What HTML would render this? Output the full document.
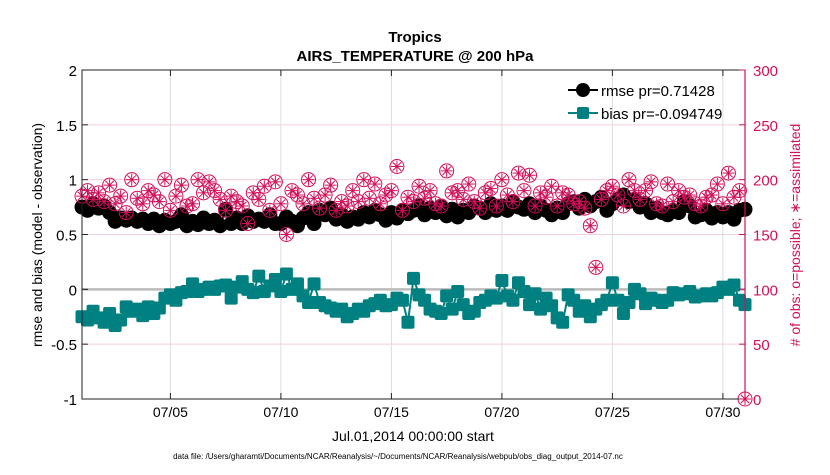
<!DOCTYPE html>
<html><head><meta charset="utf-8"><style>
body{margin:0;background:#fff;font-family:"Liberation Sans",sans-serif}
</style></head><body>
<svg id="chart" width="830" height="470" xmlns="http://www.w3.org/2000/svg" font-family="Liberation Sans, sans-serif">
<rect width="830" height="470" fill="#fff"/>
<text x="415" y="42" text-anchor="middle" font-size="15" font-weight="bold">Tropics</text>
<text x="415" y="61" text-anchor="middle" font-size="15" font-weight="bold">AIRS_TEMPERATURE @ 200 hPa</text>
<g id="grid"></g>
<g id="marks"></g>
<rect x="82" y="70" width="663" height="329" fill="none" stroke="#222" stroke-width="1"/>
<line x1="745" y1="70" x2="745" y2="399" stroke="#d0105a" stroke-width="1.2"/>
<g id="axes"></g>
<text transform="translate(42,235) rotate(-90)" text-anchor="middle" font-size="14">rmse and bias (model - observation)</text>
<text transform="translate(800,235) rotate(-90)" text-anchor="middle" font-size="14" fill="#d0105a"># of obs: o=possible; ∗=assimilated</text>
<text x="413" y="441" text-anchor="middle" font-size="14">Jul.01,2014 00:00:00 start</text>
<text x="398" y="459" text-anchor="middle" font-size="8">data file: /Users/gharamti/Documents/NCAR/Reanalysis/~/Documents/NCAR/Reanalysis/webpub/obs_diag_output_2014-07.nc</text>
<g>
<line x1="568" y1="90" x2="598" y2="90" stroke="#000" stroke-width="2"/>
<circle cx="583" cy="90" r="7" fill="#000"/>
<text x="601" y="96" font-size="15">rmse pr=0.71428</text>
<line x1="568" y1="113" x2="598" y2="113" stroke="#008080" stroke-width="2"/>
<rect x="577" y="107" width="12" height="12" rx="2" fill="#008080"/>
<text x="601" y="119" font-size="15">bias pr=-0.094749</text>
</g>
</svg>
<script>
const rmse=[.75,.72,.78,.74,.76,.70,.62,.65,.63,.65,.62,.64,.60,.64,.58,.63,.60,.62,.68,.58,.62,.59,.65,.60,.63,.58,.73,.60,.65,.60,.67,.62,.64,.62,.68,.60,.60,.66,.62,.58,.65,.70,.60,.72,.68,.74,.64,.68,.62,.66,.64,.70,.66,.72,.68,.63,.70,.65,.72,.69,.72,.76,.68,.74,.70,.75,.67,.73,.66,.72,.70,.76,.74,.70,.78,.72,.76,.72,.80,.75,.73,.78,.70,.76,.72,.68,.74,.70,.78,.80,.74,.82,.76,.80,.84,.72,.78,.82,.86,.80,.82,.75,.78,.70,.74,.70,.68,.72,.70,.80,.76,.66,.68,.72,.65,.70,.66,.70,.64,.72,.73];
const bias=[-.25,-.28,-.2,-.26,-.3,-.22,-.33,-.28,-.16,-.2,-.18,-.24,-.16,-.22,-.17,-.08,-.05,-.1,-.03,-.02,.05,-.02,0,.02,0,.03,.04,-.08,.02,.07,0,-.03,.12,-.02,.03,.09,-.02,.14,0,.05,-.06,-.12,.05,-.12,-.15,-.17,-.2,-.18,-.25,-.22,-.18,-.2,-.15,-.13,-.1,-.15,-.14,-.08,-.1,-.3,.1,-.05,-.1,-.18,-.2,-.22,-.06,-.18,-.02,-.14,-.22,-.2,-.12,-.1,-.06,-.08,.08,-.06,-.1,.06,-.02,-.14,-.04,-.18,-.08,-.15,-.26,-.3,-.05,-.1,-.2,-.15,-.25,-.18,-.14,-.1,.06,-.1,-.22,-.12,0,-.04,-.13,-.08,-.1,-.12,-.1,-.03,-.05,-.04,-.02,-.07,-.06,-.04,-.06,-.03,.02,0,.04,-.1,-.14];
const obs=[185,190,182,188,180,195,178,185,170,200,183,178,190,186,180,200,172,185,195,176,178,200,188,198,190,182,172,185,180,176,160,188,182,194,172,198,178,150,190,186,178,200,183,174,186,195,172,180,176,190,180,200,183,196,178,186,190,212,172,184,180,194,183,190,178,176,208,188,190,182,196,180,174,188,192,176,200,186,180,206,190,204,176,188,184,194,176,188,186,178,180,174,158,120,182,190,194,186,176,200,190,182,190,198,178,176,196,180,190,184,186,178,176,184,186,196,178,206,184,190,0];
const xTickDays=[4,9,14,19,24,29];
const xTickLabels=["07/05","07/10","07/15","07/20","07/25","07/30"];
const yTicks=[-1,-0.5,0,0.5,1,1.5,2];
const rTicks=[0,50,100,150,200,250,300];
const stepDays=0.25;
const NS="http://www.w3.org/2000/svg";
const X=d=>82+d/30*663;
const Y=v=>399-(v+1)/3*329;
const YR=c=>399-c/300*329;
function mk(tag,attrs,parent){const e=document.createElementNS(NS,tag);for(const k in attrs)e.setAttribute(k,attrs[k]);parent.appendChild(e);return e;}
const grid=document.getElementById('grid'),marks=document.getElementById('marks'),axes=document.getElementById('axes');
rTicks.forEach(c=>{if(c>0&&c<300){const l=mk('line',{x1:82,x2:745,y1:YR(c),y2:YR(c),stroke:'#f2cfdc','stroke-width':1},grid);

}
const t=mk('text',{x:753,y:YR(c)+6,'font-size':15,fill:'#d0105a'},axes);t.textContent=c;


mk('line',{x1:739,x2:745,y1:YR(c),y2:YR(c),stroke:'#d0105a'},axes);});
xTickDays.forEach((d,i)=>{const l=mk('line',{x1:X(d),x2:X(d),y1:70,y2:399,stroke:'#ddd','stroke-width':1},grid);


mk('line',{x1:X(d),x2:X(d),y1:70,y2:76,stroke:'#222'},axes);
mk('line',{x1:X(d),x2:X(d),y1:393,y2:399,stroke:'#222'},axes);
const t=mk('text',{x:X(d),y:417,'font-size':14,'text-anchor':'middle'},axes);t.textContent=xTickLabels[i];

});
yTicks.forEach(v=>{const t=mk('text',{x:77,y:Y(v)+6,'font-size':15,'text-anchor':'end'},axes);t.textContent=v;


mk('line',{x1:82,x2:88,y1:Y(v),y2:Y(v),stroke:'#222'},axes);});
const zl=mk('line',{x1:82,x2:745,y1:Y(0),y2:Y(0),stroke:'#bbb','stroke-width':2.5},grid);


const rp=mk('polyline',{points:rmse.map((v,i)=>X(i*stepDays)+','+Y(v)).join(' '),fill:'none',stroke:'#000','stroke-width':2},marks);


rmse.forEach((v,i)=>{const c=mk('circle',{cx:X(i*stepDays),cy:Y(v),r:7.5,fill:'#000'},marks);

});
const bp=mk('polyline',{points:bias.map((v,i)=>X(i*stepDays)+','+Y(v)).join(' '),fill:'none',stroke:'#008080','stroke-width':2},marks);


bias.forEach((v,i)=>{const r=mk('rect',{x:X(i*stepDays)-6.5,y:Y(v)-6.5,width:13,height:13,rx:2,fill:'#008080'},marks);

});
obs.forEach((c,i)=>{const g=mk('g',{},marks);


const cx=X(i*stepDays),cy=YR(c);
mk('circle',{cx,cy,r:7,fill:'none',stroke:'#d0105a','stroke-width':1},g);
for(let a=0;a<4;a++){const an=a*Math.PI/4;mk('line',{x1:cx-6*Math.cos(an),y1:cy-6*Math.sin(an),x2:cx+6*Math.cos(an),y2:cy+6*Math.sin(an),stroke:'#d0105a','stroke-width':1},g);}});
</script>
</body></html>
